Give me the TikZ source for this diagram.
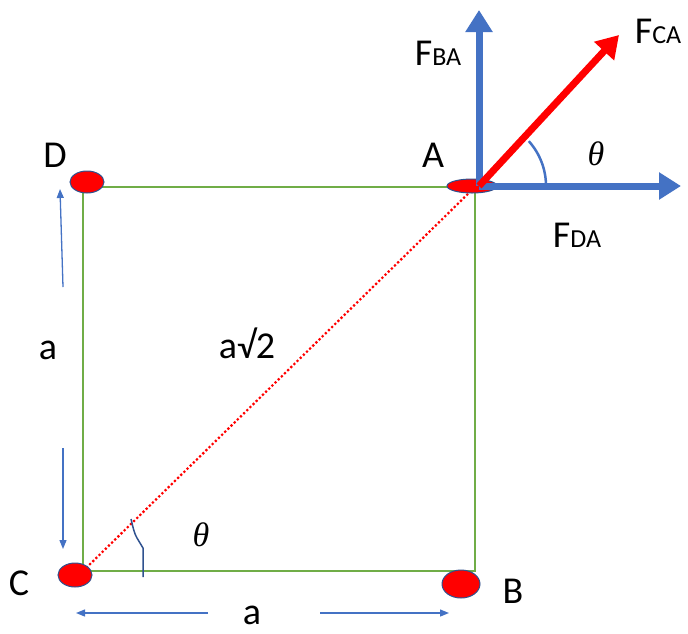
\documentclass[tikz,border=0pt]{standalone}
\usepackage{fontspec}
\setmainfont{Carlito}
\newfontfamily\thfont{Liberation Serif}
\usetikzlibrary{arrows.meta}
\definecolor{blu}{RGB}{68,114,196}
\definecolor{grn}{RGB}{112,173,71}
\definecolor{dotline}{RGB}{47,82,143}
\newcommand{\subsz}{\fontsize{26}{30}\selectfont}
\begin{document}
\begin{tikzpicture}[x=1pt,y=-1pt,
  lbl/.style={inner sep=0pt, anchor=base, font=\fontsize{38}{44}\selectfont},
  thlbl/.style={inner sep=0pt, font=\thfont\itshape\fontsize{34}{40}\selectfont},
  force/.style={line width=7pt, blu, -{Triangle[length=22pt,width=26pt]}},
  dimarrow/.style={blu, line width=1.3pt, -{Triangle[length=9pt,width=7pt]}},
  reddot/.style={fill=red, draw=dotline, line width=1pt}]
\useasboundingbox (0,0) rectangle (688,633);
% square
\coordinate (D) at (83,187);
\coordinate (A) at (475,187);
\coordinate (B) at (475,571);
\coordinate (C) at (83,571);
\draw[grn, line width=2pt] (D) -- (A) -- (B) -- (C) -- cycle;
\draw[red, line width=2.2pt, dash pattern=on 2.2pt off 2.2pt] (C) -- (A);
% dots
\path[reddot] (87,182) ellipse[x radius=17pt, y radius=11pt];
\path[reddot] (75,575) ellipse[x radius=17pt, y radius=12pt];
\path[reddot] (461,584) ellipse[x radius=19pt, y radius=14pt];
\path[reddot] (472,186) ellipse[x radius=25pt, y radius=7pt];
% forces
\coordinate (O) at (479,186);
\coordinate (tBA) at (479,10);
\coordinate (tDA) at (681,186);
\coordinate (tCA) at (619,35);
\draw[force] (O) -- (tBA);
\draw[force] (O) -- (tDA);
\draw[force, red] (O) -- (tCA);
\draw[blu, line width=2.5pt] ([xshift=67pt]O) arc[start angle=0, end angle=42, radius=67pt];
% dimension arrows
\coordinate (l1s) at (63,287); \coordinate (l1e) at (60,189);
\coordinate (l2s) at (63,448); \coordinate (l2e) at (63,549);
\coordinate (b1s) at (208,613); \coordinate (b1e) at (76,613);
\coordinate (b2s) at (320,613); \coordinate (b2e) at (449,613);
\draw[dimarrow] (l1s) -- (l1e);
\draw[dimarrow] (l2s) -- (l2e);
\draw[dimarrow] (b1s) -- (b1e);
\draw[dimarrow] (b2s) -- (b2e);
% angle mark at C
\draw[dotline, line width=1.5pt] (131,519) .. controls (133,527) and (134,533) .. (137,538) -- (143,548) -- (143,577);
% labels
\node[lbl] (lA) at (433,167) {A};
\node[lbl] (lD) at (55,167) {D};
\node[lbl] (lC) at (19,595) {C};
\node[lbl] (lB) at (513,603) {B};
\node[lbl] (la1) at (48,359) {a};
\node[lbl] (la2) at (252,624) {a};
\node[lbl] (lr2) at (247,358) {a√2};
\node[lbl] (FBA) at (438,65) {F{\subsz BA}};
\node[lbl] (FCA) at (658,43) {F{\subsz CA}};
\node[lbl] (FDA) at (577,247) {F{\subsz DA}};
\node[thlbl] (th1) at (596,154) {θ};
\node[thlbl] (th2) at (201,535) {θ};
\end{tikzpicture}
\end{document}
